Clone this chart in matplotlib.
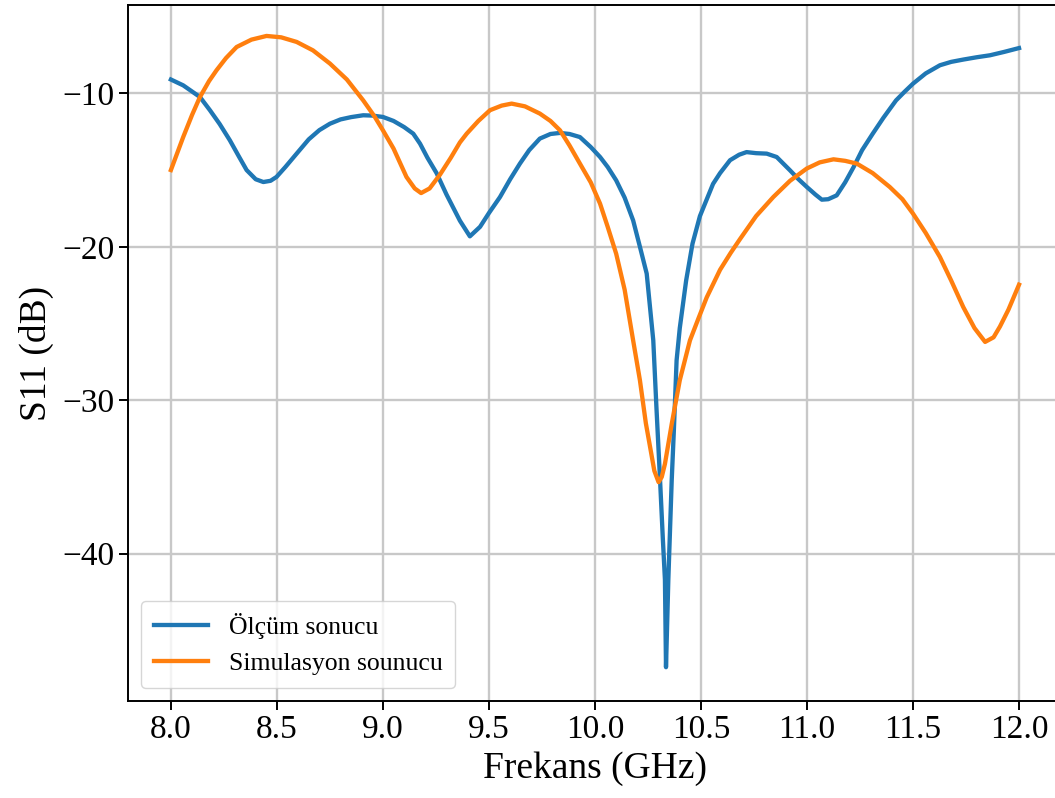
import matplotlib
matplotlib.use("Agg")
import matplotlib.pyplot as plt

plt.rcParams['font.family'] = ['Liberation Serif', 'DejaVu Serif']

# Measured S11 (Ölçüm sonucu)
olcum_f = [8.00, 8.058, 8.137, 8.184, 8.23, 8.278, 8.32, 8.357, 8.40, 8.436,
           8.47, 8.498, 8.54, 8.593, 8.65, 8.70, 8.75, 8.80, 8.85, 8.907,
           8.95, 9.00, 9.05, 9.10, 9.143, 9.175, 9.21, 9.253, 9.30, 9.363,
           9.41, 9.458, 9.50, 9.552, 9.60, 9.646, 9.69, 9.74, 9.79, 9.835,
           9.88, 9.929, 9.98, 10.024, 10.06, 10.10, 10.14, 10.18, 10.212, 10.244,
           10.275, 10.29, 10.307, 10.32, 10.33, 10.335, 10.346, 10.362, 10.372, 10.385,
           10.40, 10.43, 10.46, 10.495, 10.557, 10.59, 10.637, 10.68, 10.715, 10.76,
           10.81, 10.857, 10.92, 10.96, 10.999, 11.04, 11.07, 11.10, 11.14, 11.18,
           11.22, 11.26, 11.31, 11.36, 11.42, 11.46, 11.50, 11.56, 11.627, 11.68,
           11.737, 11.80, 11.863, 11.93, 12.0]
olcum_db = [-9.1, -9.48, -10.24, -11.1, -12.0, -13.06, -14.1, -15.0, -15.6, -15.78,
            -15.7, -15.45, -14.8, -13.93, -13.0, -12.4, -11.98, -11.7, -11.55, -11.43,
            -11.45, -11.54, -11.8, -12.2, -12.63, -13.28, -14.2, -15.2, -16.6, -18.3,
            -19.32, -18.7, -17.8, -16.76, -15.6, -14.58, -13.7, -12.95, -12.65, -12.58,
            -12.65, -12.85, -13.5, -14.15, -14.8, -15.67, -16.8, -18.28, -20.0, -21.75,
            -26.1, -30.5, -35.2, -39.0, -41.7, -47.4, -41.7, -35.2, -32.0, -27.4,
            -25.3, -22.2, -19.8, -18.0, -15.9, -15.2, -14.36, -14.0, -13.83, -13.9,
            -13.93, -14.15, -15.02, -15.6, -16.1, -16.6, -16.93, -16.9, -16.65, -15.8,
            -14.8, -13.7, -12.63, -11.6, -10.46, -9.9, -9.37, -8.7, -8.17, -7.95,
            -7.8, -7.65, -7.52, -7.3, -7.05]

# Simulated S11 (Simulasyon sounucu)
sim_f = [8.00, 8.058, 8.10, 8.137, 8.18, 8.215, 8.26, 8.31, 8.38, 8.451,
         8.52, 8.593, 8.67, 8.75, 8.83, 8.907, 8.96, 9.00, 9.05, 9.111,
         9.15, 9.18, 9.22, 9.269, 9.32, 9.363, 9.395, 9.45, 9.505, 9.56,
         9.607, 9.67, 9.74, 9.79, 9.835, 9.88, 9.929, 9.98, 10.024, 10.06,
         10.10, 10.14, 10.18, 10.212, 10.24, 10.26, 10.28, 10.30, 10.315, 10.33,
         10.362, 10.40, 10.448, 10.49, 10.527, 10.59, 10.64, 10.684, 10.76, 10.841,
         10.92, 10.999, 11.06, 11.125, 11.18, 11.235, 11.31, 11.39, 11.45, 11.50,
         11.56, 11.627, 11.68, 11.737, 11.79, 11.84, 11.88, 11.91, 11.95, 12.0]
sim_db = [-15.0, -12.85, -11.4, -10.24, -9.2, -8.5, -7.7, -6.98, -6.5, -6.26,
          -6.35, -6.65, -7.2, -8.06, -9.1, -10.46, -11.5, -12.41, -13.6, -15.45,
          -16.2, -16.5, -16.2, -15.3, -14.2, -13.2, -12.63, -11.8, -11.1, -10.8,
          -10.67, -10.85, -11.32, -11.8, -12.41, -13.4, -14.58, -15.8, -17.19, -18.7,
          -20.45, -22.8, -26.1, -28.7, -31.5, -33.05, -34.6, -35.34, -35.0, -34.15,
          -31.55, -28.7, -26.1, -24.6, -23.3, -21.5, -20.4, -19.5, -18.0, -16.76,
          -15.7, -14.9, -14.5, -14.3, -14.4, -14.58, -15.2, -16.1, -16.9, -17.84,
          -19.1, -20.67, -22.2, -23.93, -25.3, -26.2, -25.9, -25.2, -24.1, -22.47]

fig = plt.figure(figsize=(10.55, 7.98), dpi=100)
ax = fig.add_axes([0.1218, 0.1216, 0.8843, 0.8722])

ax.plot(olcum_f, olcum_db, color='#1f77b4', lw=3.1, label='Ölçüm sonucu')
ax.plot(sim_f, sim_db, color='#ff7f0e', lw=3.1, label='Simulasyon sounucu')

ax.set_xlim(7.8, 12.2)
ax.set_ylim(-49.6, -4.24)
ax.set_xticks([8.0, 8.5, 9.0, 9.5, 10.0, 10.5, 11.0, 11.5, 12.0])
ax.set_yticks([-40, -30, -20, -10])
ax.grid(True, color='#c8c8c8', lw=1.7)

ax.set_xlabel('Frekans (GHz)', fontsize=27, labelpad=4)
ax.set_ylabel('S11 (dB)', fontsize=27, labelpad=6)
ax.tick_params(labelsize=24, length=6.5, width=1.4)
for s in ax.spines.values():
    s.set_linewidth(1.4)

ax.legend(loc='lower left', fontsize=18.5, handlelength=2.1, borderpad=0.5,
          framealpha=0.8, edgecolor='#cccccc', fancybox=True)

fig.savefig('out.png', dpi=100)
